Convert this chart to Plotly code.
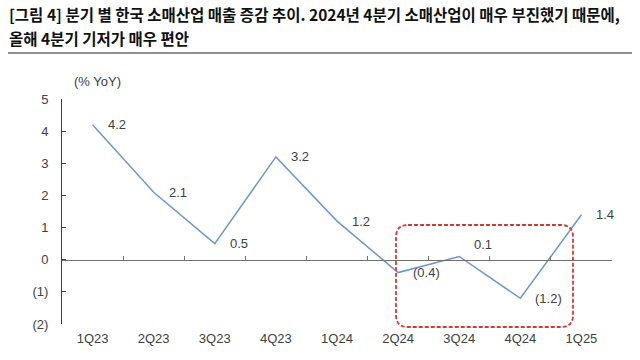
import plotly.graph_objects as go

categories = ["1Q23", "2Q23", "3Q23", "4Q23", "1Q24", "2Q24", "3Q24", "4Q24", "1Q25"]
values = [4.2, 2.1, 0.5, 3.2, 1.2, -0.4, 0.1, -1.2, 1.4]
value_labels = ["4.2", "2.1", "0.5", "3.2", "1.2", "(0.4)", "0.1", "(1.2)", "1.4"]
label_yshift = [0, 0, 0, 0, 0, 0, 12, 0, 0]
y_tickvals = [5, 4, 3, 2, 1, 0, -1, -2]
y_ticktext = ["5", "4", "3", "2", "1", "0", "(1)", "(2)"]

W, H = 640, 360
L, R, T, B = 62, 28, 99, 36
pw, ph = W - L - R, H - T - B

def px(x):
    return (x - L) / pw

def py(y):
    return (H - B - y) / ph

FONT = "Liberation Sans, Arial, sans-serif"
TXT = "#404040"

fig = go.Figure()
fig.add_trace(go.Scatter(
    x=categories, y=values, mode="lines",
    line=dict(color="#6b97d1", width=1.5),
    hoverinfo="skip", showlegend=False,
))
# invisible helper trace for the zero-line category tick axis
fig.add_trace(go.Scatter(
    x=categories, y=values, xaxis="x2", mode="lines",
    line=dict(color="rgba(0,0,0,0)"), hoverinfo="skip", showlegend=False,
))

for c, v, t, ys in zip(categories, values, value_labels, label_yshift):
    fig.add_annotation(x=c, y=v, text=t, showarrow=False, xanchor="left", yanchor="middle",
                       xshift=13, yshift=ys, font=dict(family=FONT, size=13, color=TXT))

ymin, ymax = -2, 5
fig.update_layout(
    width=W, height=H,
    margin=dict(l=L, r=R, t=T, b=B),
    paper_bgcolor="white", plot_bgcolor="white",
    font=dict(family=FONT, size=13, color=TXT),
    xaxis=dict(
        type="category", range=[-0.5, len(categories) - 0.5],
        showgrid=False, zeroline=False, showline=False, ticks="",
        ticklabelstandoff=5,
        tickfont=dict(family=FONT, size=13, color=TXT),
    ),
    xaxis2=dict(
        type="category", range=[-0.5, len(categories) - 0.5],
        overlaying="x", anchor="free", position=(0 - ymin) / (ymax - ymin),
        showgrid=False, zeroline=False, showline=True, linecolor="#707070", linewidth=1,
        ticks="inside", tickson="boundaries", ticklen=4, tickcolor="#707070",
        showticklabels=False,
    ),
    yaxis=dict(
        range=[ymin, ymax], tickvals=y_tickvals, ticktext=y_ticktext,
        showgrid=False, zeroline=False, showline=True, linecolor="#404040", linewidth=1,
        ticks="inside", ticklen=4, tickcolor="#404040",
        ticklabelstandoff=10,
        tickfont=dict(family=FONT, size=13, color=TXT),
    ),
)

# title (two lines)
title_lines = ["[그림 4] 분기 별 한국 소매산업 매출 증감 추이. 2024년 4분기 소매산업이 매우 부진했기 때문에,",
               "올해 4분기 기저가 매우 편안"]
for line_text, yc in zip(title_lines, [14, 38]):
    fig.add_annotation(
        xref="paper", yref="paper", x=px(7), y=py(yc), xanchor="left", yanchor="middle",
        text="<b>" + line_text + "</b>", showarrow=False, align="left",
        font=dict(family="Noto Sans CJK KR", size=15.5, color="#111111"),
    )
fig.add_shape(type="line", xref="paper", yref="paper",
              x0=px(8), x1=px(632), y0=py(53), y1=py(53),
              line=dict(color="#222222", width=1.2))
# unit label
fig.add_annotation(
    xref="paper", yref="paper", x=px(97), y=py(82), xanchor="center", yanchor="middle",
    text="(% YoY)", showarrow=False, font=dict(family=FONT, size=13, color=TXT),
)

# red dashed rounded highlight box
x0, x1, y0, y1, r = 396, 573, 225, 327, 12
def P(x, y):
    return f"{px(x):.5f},{py(y):.5f}"
path = (f"M {P(x0 + r, y0)} L {P(x1 - r, y0)} Q {P(x1, y0)} {P(x1, y0 + r)} "
        f"L {P(x1, y1 - r)} Q {P(x1, y1)} {P(x1 - r, y1)} "
        f"L {P(x0 + r, y1)} Q {P(x0, y1)} {P(x0, y1 - r)} "
        f"L {P(x0, y0 + r)} Q {P(x0, y0)} {P(x0 + r, y0)} Z")
fig.add_shape(type="path", xref="paper", yref="paper", path=path,
              line=dict(color="#d43a34", width=1.8, dash="4px,2px"))

fig.write_html("out.html", config={"displayModeBar": False},
               post_script="document.body.style.margin='0';document.body.style.padding='0';")
